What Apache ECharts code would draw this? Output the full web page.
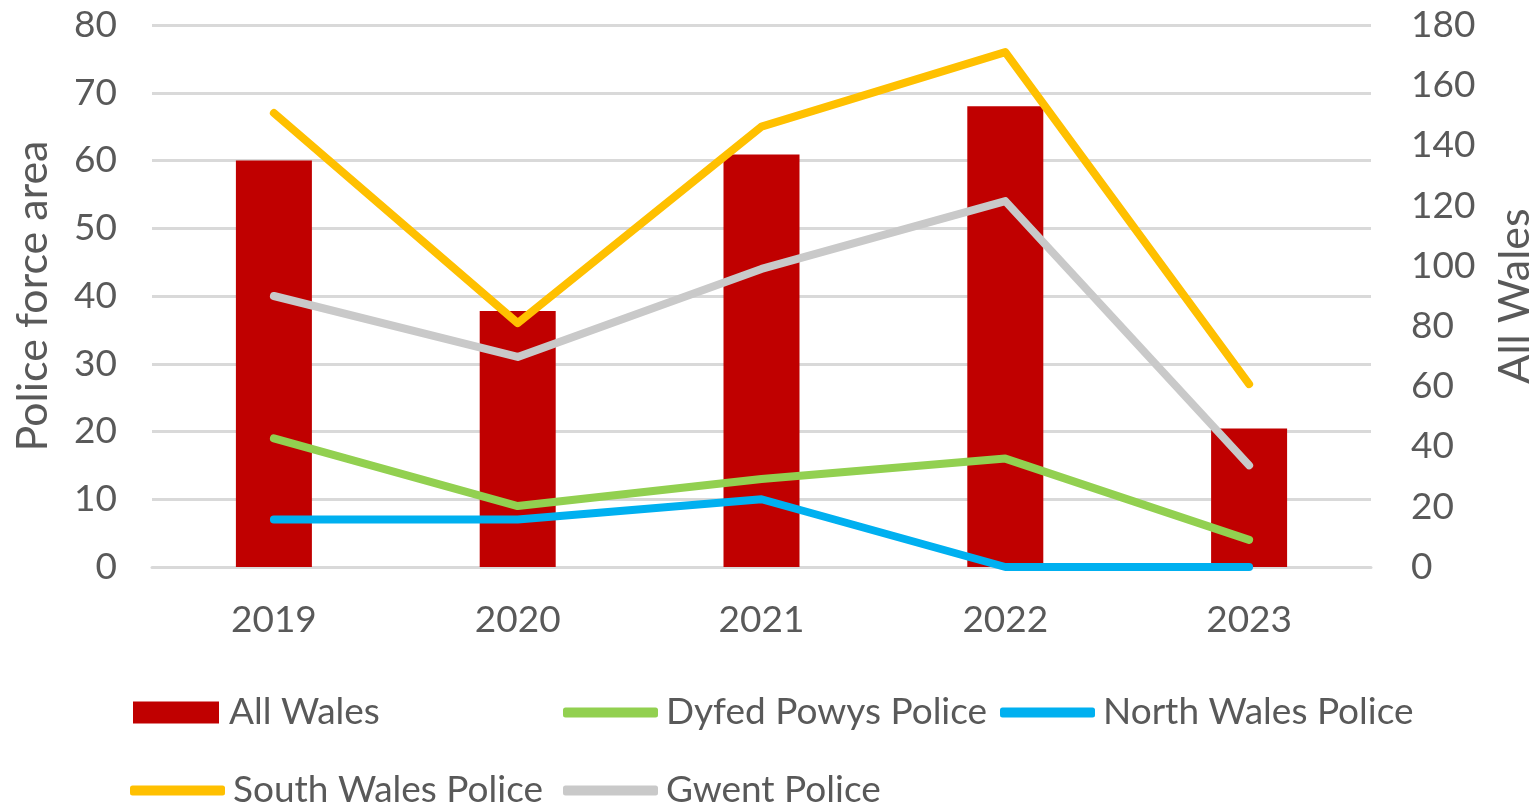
<!DOCTYPE html>
<html>
<head>
<meta charset="utf-8">
<script src="https://cdn.jsdelivr.net/npm/echarts@6/dist/echarts.min.js"></script>
<style>
html,body{margin:0;padding:0;background:#fff;}
#chart{width:1539px;height:808px;}
</style>
</head>
<body>
<div id="chart"></div>
<script>
const years = ['2019', '2020', '2021', '2022', '2023'];
const allWales = [135, 85, 137, 153, 46];
const dyfedPowys = [19, 9, 13, 16, 4];
const northWales = [7, 7, 10, 0, 0];
const southWales = [67, 36, 65, 76, 27];
const gwent = [40, 31, 44, 54, 15];
const leftTicks = { min: 0, max: 80, interval: 10 };
const rightTicks = { min: 0, max: 180, interval: 20 };

const FONT = 'Lato';
const TXT = '#595959';
const chart = echarts.init(document.getElementById('chart'), null, { renderer: 'canvas' });

function lineSeries(name, data, color) {
  return {
    name: name, type: 'line', yAxisIndex: 0, data: data,
    symbol: 'none', smooth: false,
    lineStyle: { color: color, width: 8, cap: 'round', join: 'round' },
    itemStyle: { color: color },
    emphasis: { disabled: true }
  };
}

function legendItem(name, left, top, isBar) {
  return {
    data: [{ name: name, icon: isBar ? 'rect' : 'roundRect' }],
    left: left, top: top,
    itemWidth: isBar ? 86 : 95,
    itemHeight: isBar ? 22 : 10,
    itemGap: 0,
    padding: 0,
    selectedMode: false,
    textStyle: { fontFamily: FONT, fontSize: 37, color: TXT, padding: [0, 0, 0, isBar ? 5 : 3] }
  };
}

chart.setOption({
  animation: false,
  backgroundColor: '#fff',
  grid: { left: 152, right: 168, top: 25, bottom: 241, containLabel: false, outerBoundsMode: 'none' },
  legend: [
    legendItem('All Wales', 133, 694, true),
    legendItem('Dyfed Powys Police', 563, 694, false),
    legendItem('North Wales Police', 1000, 694, false),
    legendItem('South Wales Police', 130, 772, false),
    legendItem('Gwent Police', 563, 772, false)
  ],
  xAxis: {
    type: 'category', data: years,
    axisLine: { show: true, lineStyle: { color: '#D9D9D9', width: 3 } },
    axisTick: { show: false },
    axisLabel: { fontFamily: FONT, fontSize: 37, color: TXT, margin: 35 }
  },
  yAxis: [
    {
      type: 'value', min: leftTicks.min, max: leftTicks.max, interval: leftTicks.interval,
      name: 'Police force area', nameLocation: 'middle', nameRotate: 90, nameGap: 97,
      nameTextStyle: { fontFamily: FONT, fontSize: 43, color: TXT },
      axisLine: { show: false }, axisTick: { show: false },
      axisLabel: { fontFamily: FONT, fontSize: 37, color: TXT, margin: 35 },
      splitLine: { show: true, lineStyle: { color: '#D9D9D9', width: 3 } }
    },
    {
      type: 'value', min: rightTicks.min, max: rightTicks.max, interval: rightTicks.interval,
      position: 'right',
      name: 'All Wales', nameLocation: 'middle', nameRotate: 90, nameGap: 123,
      nameTextStyle: { fontFamily: FONT, fontSize: 43, color: TXT },
      axisLine: { show: false }, axisTick: { show: false },
      axisLabel: { fontFamily: FONT, fontSize: 37, color: TXT, margin: 40 },
      splitLine: { show: false }
    }
  ],
  series: [
    {
      name: 'All Wales', type: 'bar', yAxisIndex: 1, data: allWales,
      barWidth: 76, itemStyle: { color: '#C00000' }, emphasis: { disabled: true }
    },
    lineSeries('Dyfed Powys Police', dyfedPowys, '#92D050'),
    lineSeries('North Wales Police', northWales, '#00B0F0'),
    lineSeries('South Wales Police', southWales, '#FFC000'),
    lineSeries('Gwent Police', gwent, '#C9C9C9')
  ]
});
</script>
</body>
</html>
